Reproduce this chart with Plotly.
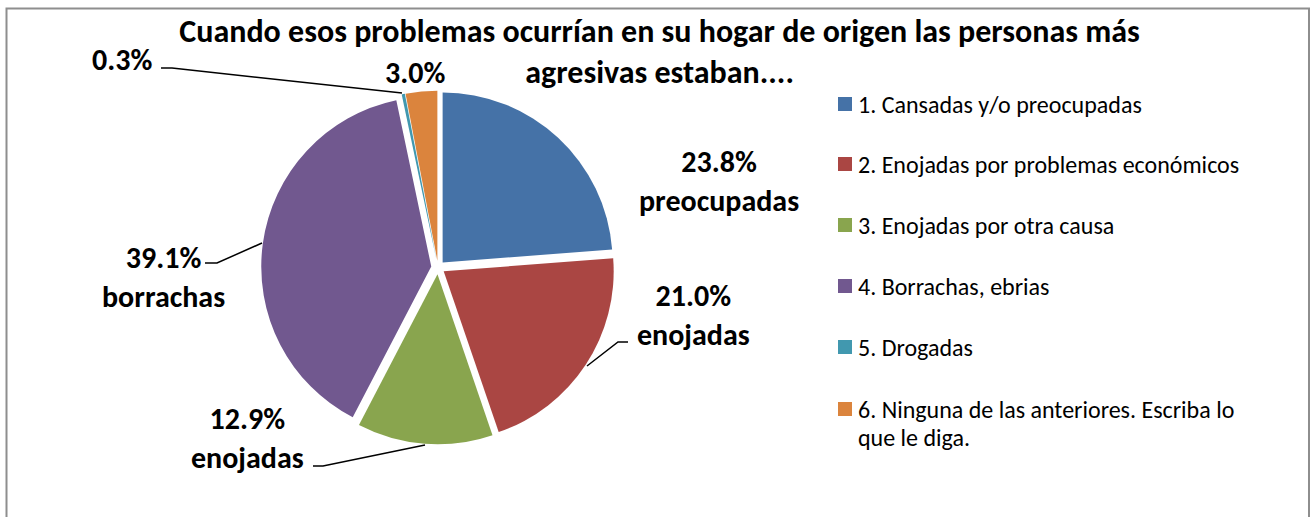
import plotly.graph_objects as go

# ---- data ----
categories = [
    "1. Cansadas y/o preocupadas",
    "2. Enojadas por problemas económicos",
    "3. Enojadas por otra causa",
    "4. Borrachas, ebrias",
    "5. Drogadas",
    "6. Ninguna de las anteriores. Escriba lo que le diga.",
]
values = [23.8, 21.0, 12.9, 39.1, 0.3, 3.0]
label_words = ["preocupadas", "enojadas", "enojadas", "borrachas", "", ""]
legend_labels = [
    "1. Cansadas y/o preocupadas",
    "2. Enojadas por problemas económicos",
    "3. Enojadas por otra causa",
    "4. Borrachas, ebrias",
    "5. Drogadas",
    "6. Ninguna de las anteriores. Escriba lo<br>que le diga.",
]
colors = ["#4572A7", "#AA4643", "#89A54E", "#71588F", "#4198AF", "#DB843D"]
title_text = ("Cuando esos problemas ocurrían en su hogar de origen las personas más"
              "<br>agresivas estaban....")

W, H = 1314, 517
FONT = "Carlito, Calibri, Lato, sans-serif"


def px(x):
    return x / W


def py(y):
    return 1 - y / H


# pie geometry (pixels)
cx, cy, r, pull = 438, 267.5, 170, 0.04
half = r * (1 + pull)

fig = go.Figure()
fig.add_trace(go.Pie(
    labels=categories,
    values=values,
    sort=False,
    direction="clockwise",
    rotation=0,
    pull=[pull] * len(values),
    marker=dict(colors=colors, line=dict(color="white", width=0)),
    textinfo="none",
    hoverinfo="label+value",
    showlegend=False,
    domain=dict(x=[px(cx - half), px(cx + half)], y=[py(cy + half), py(cy - half)]),
))

# data labels (layout positions)
label_pos = [(719, 181), (693, 315), (247, 438), (163, 277), (122, 59), (415, 72)]
for v, w, (lx, ly) in zip(values, label_words, label_pos):
    txt = f"<b>{v:.1f}%</b>" + (f"<br><b>{w}</b>" if w else "")
    fig.add_annotation(x=px(lx), y=py(ly), xref="paper", yref="paper",
                       text=txt, showarrow=False, xanchor="center", yanchor="middle",
                       font=dict(family=FONT, size=30, color="black"))

# leader lines
leaders = [
    [(161, 68), (172, 68), (402, 93)],
    [(628, 342), (618, 342), (587, 366)],
    [(205, 263), (217, 263), (262, 243)],
    [(313, 466), (323, 466), (425, 445)],
]
for pts in leaders:
    path = "M " + " L ".join(f"{px(a):.5f},{py(b):.5f}" for a, b in pts)
    fig.add_shape(type="path", path=path, xref="paper", yref="paper",
                  line=dict(color="black", width=1.5), layer="above")

# manual legend
leg_y = [104, 164, 225, 286, 347, 409]
for lab, col, ly in zip(legend_labels, colors, leg_y):
    fig.add_shape(type="rect", xref="paper", yref="paper",
                  x0=px(838), x1=px(852), y0=py(ly - 7), y1=py(ly + 7),
                  fillcolor=col, line=dict(width=0))
    for i, line in enumerate(lab.split("<br>")):
        fig.add_annotation(x=px(856), y=py(ly + i * 28), xref="paper", yref="paper",
                           text=line, showarrow=False, xanchor="left", yanchor="middle",
                           align="left", font=dict(family=FONT, size=24, color="black"))

# chart border
fig.add_shape(type="rect", xref="paper", yref="paper",
              x0=px(6.5), x1=px(1309), y0=py(530), y1=py(8.5),
              line=dict(color="#8E8E8E", width=2), fillcolor="rgba(0,0,0,0)")

fig.update_layout(
    width=W, height=H,
    margin=dict(l=0, r=0, t=0, b=0),
    paper_bgcolor="white", plot_bgcolor="white",
    title=dict(text=f"<b>{title_text}</b>", x=0.502, xanchor="center",
               y=py(41.5), yanchor="top", yref="paper",
               font=dict(family=FONT, size=32, color="black")),
)

fig.write_html(
    "out.html",
    config={"displayModeBar": False},
    post_script="document.body.style.margin='0';document.body.style.overflow='hidden';",
)
